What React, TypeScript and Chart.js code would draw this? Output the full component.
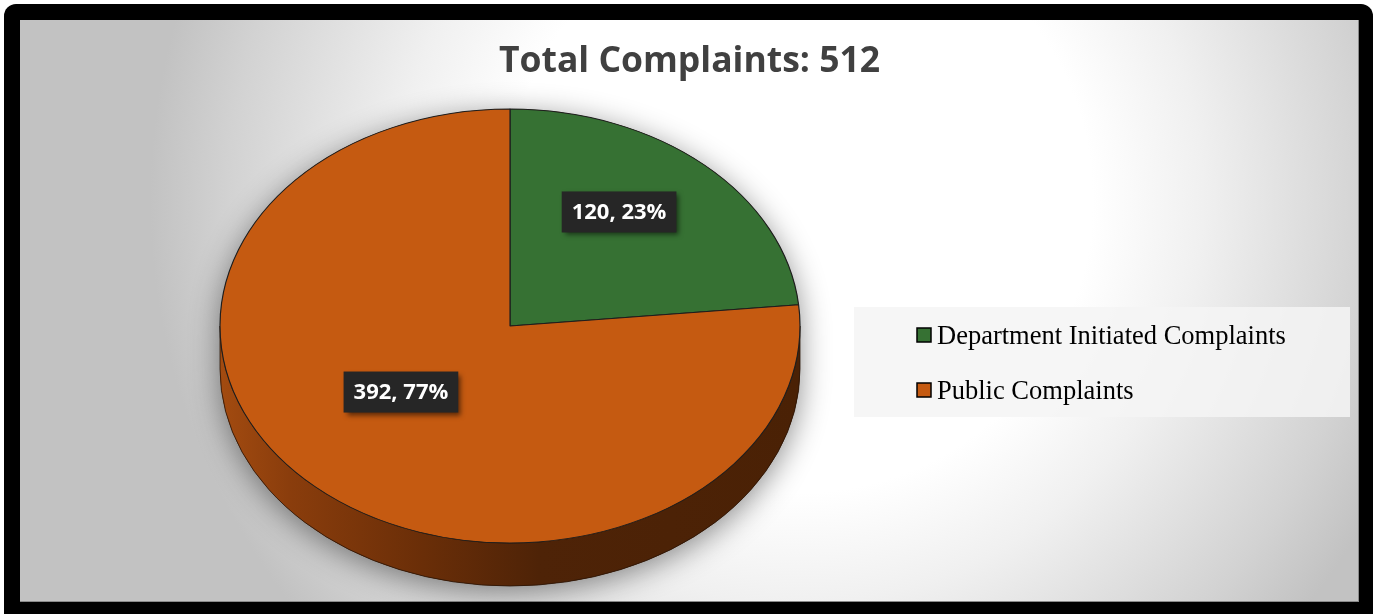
import React, { useEffect, useRef } from "react";
import { Chart, registerables } from "chart.js";

Chart.register(...registerables);

// ---- data ----
const categories = ["Department Initiated Complaints", "Public Complaints"];
const complaintCounts = [120, 392];
const sliceColors = ["#367133", "#c55a11"];
const chartTitle = "Total Complaints: 512";

// ---- layout (canvas coordinates) ----
const W = 1339;
const H = 582;
const CX = 490;
const CY = 306;
const RX = 290;
const RY = 217;
const DEPTH = 43;
const LABEL_FRACTION = 0.56;
const PERSPECTIVE_SHIFT = 24;

const pie3d = {
  id: "pie3d",
  beforeDatasetsDraw(chart: any) {
    const ctx: CanvasRenderingContext2D = chart.ctx;
    const meta = chart.getDatasetMeta(0);
    const arcs = meta.data as any[];
    if (!arcs.length) return;
    const a0 = arcs[0];
    const ox = a0.x;
    const oy = a0.y;
    const R = a0.outerRadius;

    // soft shadow behind the whole pie
    ctx.save();
    ctx.shadowColor = "rgba(0,0,0,0.45)";
    ctx.shadowBlur = 30;
    ctx.shadowOffsetY = 6;
    ctx.fillStyle = "#5a2a08";
    ctx.beginPath();
    ctx.ellipse(CX, CY, RX, RY, 0, Math.PI, 2 * Math.PI);
    ctx.lineTo(CX + RX, CY + DEPTH);
    ctx.ellipse(CX, CY + DEPTH, RX, RY, 0, 0, Math.PI);
    ctx.closePath();
    ctx.fill();
    ctx.restore();

    // side walls
    arcs.forEach((arc, i) => {
      const s = arc.startAngle;
      const e = arc.endAngle;
      for (const k of [-2, 0, 2]) {
        const lo = Math.max(s + k * Math.PI, 0);
        const hi = Math.min(e + k * Math.PI, Math.PI);
        if (hi <= lo) continue;
        ctx.save();
        const g = ctx.createLinearGradient(CX - RX, 0, CX + RX, 0);
        if (i === 0) {
          g.addColorStop(0, "#2a5a27");
          g.addColorStop(1, "#173515");
        } else {
          g.addColorStop(0, "#a34b10");
          g.addColorStop(0.12, "#8a3d0c");
          g.addColorStop(0.35, "#6a2e08");
          g.addColorStop(0.55, "#4e2307");
          g.addColorStop(1, "#4a2105");
        }
        ctx.fillStyle = g;
        ctx.strokeStyle = "#2a1406";
        ctx.lineWidth = 0.8;
        ctx.beginPath();
        ctx.ellipse(CX, CY, RX, RY, 0, lo, hi);
        ctx.lineTo(CX + RX * Math.cos(hi), CY + DEPTH + RY * Math.sin(hi));
        ctx.ellipse(CX, CY + DEPTH, RX, RY, 0, hi, lo, true);
        ctx.closePath();
        ctx.fill();
        ctx.stroke();
        ctx.restore();
      }
    });

    // squash the flat pie into the tilted top face
    ctx.save();
    ctx.translate(CX, CY);
    ctx.scale(RX / R, RY / R);
    ctx.translate(-ox, -oy);
  },
  afterDatasetsDraw(chart: any) {
    const ctx: CanvasRenderingContext2D = chart.ctx;
    ctx.restore();
    const meta = chart.getDatasetMeta(0);
    const arcs = meta.data as any[];
    const values = chart.data.datasets[0].data as number[];
    const total = values.reduce((a, b) => a + b, 0);
    arcs.forEach((arc, i) => {
      const mid = (arc.startAngle + arc.endAngle) / 2;
      const x = CX + Math.cos(mid) * RX * LABEL_FRACTION;
      const y = CY + Math.sin(mid) * RY * LABEL_FRACTION - PERSPECTIVE_SHIFT;
      const text = `${values[i]}, ${Math.round((values[i] / total) * 100)}%`;
      ctx.save();
      ctx.font = "bold 22px 'Open Sans'";
      const tw = ctx.measureText(text).width;
      const bw = tw + 20;
      const bh = 41;
      ctx.shadowColor = "rgba(0,0,0,0.55)";
      ctx.shadowBlur = 5;
      ctx.shadowOffsetX = 3;
      ctx.shadowOffsetY = 3;
      ctx.fillStyle = "#262626";
      ctx.fillRect(x - bw / 2, y - bh / 2, bw, bh);
      ctx.restore();
      ctx.save();
      ctx.font = "bold 22px 'Open Sans'";
      ctx.fillStyle = "#ffffff";
      ctx.textAlign = "center";
      ctx.textBaseline = "middle";
      ctx.fillText(text, x, y + 1);
      ctx.restore();
    });
  },
  afterDraw(chart: any) {
    const ctx: CanvasRenderingContext2D = chart.ctx;
    const labels = chart.data.labels as string[];
    const colors = chart.data.datasets[0].backgroundColor as string[];
    ctx.save();
    ctx.fillStyle = "rgba(244,244,244,0.85)";
    ctx.fillRect(834, 287, 496, 110);
    ctx.font = "26.5px 'Liberation Serif'";
    ctx.textBaseline = "alphabetic";
    ctx.textAlign = "left";
    labels.forEach((lab, i) => {
      const top = 308 + i * 55;
      ctx.fillStyle = colors[i];
      ctx.fillRect(897, top, 14, 14);
      ctx.strokeStyle = "#000";
      ctx.lineWidth = 1.5;
      ctx.strokeRect(897, top, 14, 14);
      ctx.fillStyle = "#000";
      ctx.fillText(lab, 917, top + 16);
    });
    ctx.restore();
  },
};

export default function App() {
  const ref = useRef<HTMLCanvasElement>(null);
  useEffect(() => {
    document.body.style.margin = "0";
    const chart = new Chart(ref.current as HTMLCanvasElement, {
      type: "pie",
      data: {
        labels: categories,
        datasets: [
          {
            data: complaintCounts,
            backgroundColor: sliceColors,
            borderColor: "#1e1e1e",
            borderWidth: 1,
          },
        ],
      },
      options: {
        responsive: false,
        animation: false,
        events: [],
        layout: { padding: { top: 0, bottom: 10, left: 10, right: 10 } },
        plugins: {
          legend: { display: false },
          tooltip: { enabled: false },
          title: {
            display: true,
            text: chartTitle,
            color: "#404040",
            font: { family: "'Open Sans'", size: 35.5, weight: "bold" },
            padding: { top: 21, bottom: 10 },
          },
        },
      },
      plugins: [pie3d],
    });
    return () => chart.destroy();
  }, []);

  return (
    <div style={{ position: "relative", width: 1375, height: 614, overflow: "hidden" }}>
      <div
        style={{
          position: "absolute",
          left: 4,
          top: 4,
          width: 1369,
          height: 630,
          background: "#000",
          borderRadius: 12,
        }}
      />
      <div
        style={{
          position: "absolute",
          left: 20,
          top: 20,
          width: W,
          height: H,
          background:
            "radial-gradient(circle 650px at 780px 180px, #ffffff 0%, #ffffff 45%, #f0f0f0 62%, #d2d2d2 88%, #c2c2c2 100%)",
          boxShadow: "inset -1px -1px 0 #8a8a8a",
        }}
      >
        <canvas ref={ref} width={W} height={H} style={{ display: "block" }} />
      </div>
    </div>
  );
}
